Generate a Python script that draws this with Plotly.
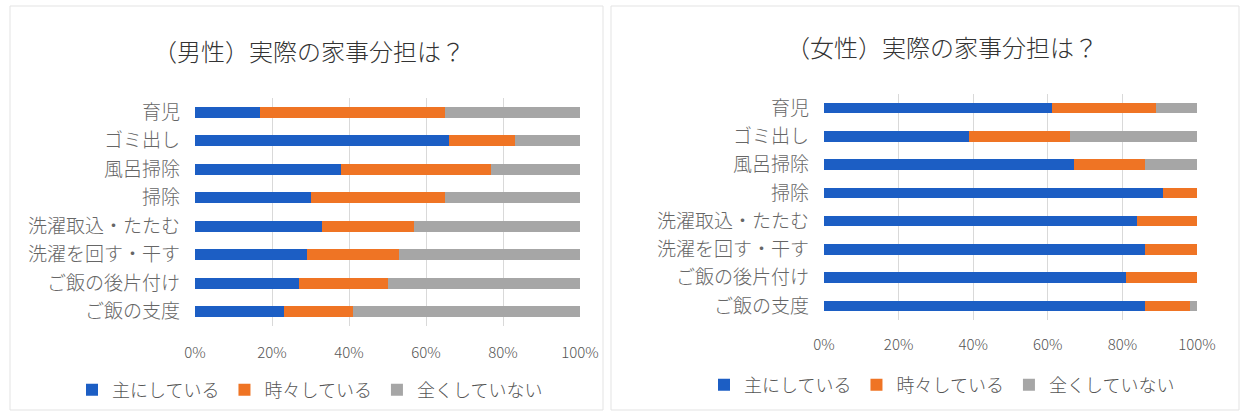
import plotly.graph_objects as go

categories = ["育児", "ゴミ出し", "風呂掃除", "掃除", "洗濯取込・たたむ",
              "洗濯を回す・干す", "ご飯の後片付け", "ご飯の支度"]
series_names = ["主にしている", "時々している", "全くしていない"]

male_main = [17, 66, 38, 30, 33, 29, 27, 23]
male_some = [48, 17, 39, 35, 24, 24, 23, 18]
male_none = [35, 17, 23, 35, 43, 47, 50, 59]

female_main = [61, 39, 67, 91, 84, 86, 81, 86]
female_some = [28, 27, 19, 9, 16, 14, 19, 12]
female_none = [11, 34, 14, 0, 0, 0, 0, 2]

tick_vals = [0, 20, 40, 60, 80, 100]
tick_text = ["0%", "20%", "40%", "60%", "80%", "100%"]

titles = ["（男性）実際の家事分担は？", "（女性）実際の家事分担は？"]

colors = ["#1c5ec4", "#ef7424", "#a6a6a6"]
FONT = "Noto Sans CJK JP"

fig = go.Figure()

male = [male_main, male_some, male_none]
female = [female_main, female_some, female_none]
for i, name in enumerate(series_names):
    fig.add_trace(go.Bar(
        y=categories, x=male[i], name=name, orientation="h",
        marker=dict(color=colors[i], line=dict(width=0)),
        width=0.38, xaxis="x", yaxis="y", legend="legend",
    ))
for i, name in enumerate(series_names):
    fig.add_trace(go.Bar(
        y=categories, x=female[i], name=name, orientation="h",
        marker=dict(color=colors[i], line=dict(width=0)),
        width=0.38, xaxis="x2", yaxis="y2", legend="legend2",
    ))

W, H = 1245, 416

def px_x(v):
    return v / W

def px_y(v):
    return 1 - v / H

xaxis_common = dict(
    range=[0, 100], tickvals=tick_vals, ticktext=tick_text,
    showgrid=True, gridcolor="#d9d9d9", gridwidth=1,
    zeroline=False, showline=False, ticks="", automargin=False,
    tickfont=dict(family=FONT, size=15, color="#555555", weight=300),
    fixedrange=True,
)
yaxis_common = dict(
    autorange="reversed", showgrid=False, zeroline=False, showline=False,
    ticks="", automargin=False,
    tickfont=dict(family=FONT, size=19, color="#666666", weight=300),
    ticklabelstandoff=14, fixedrange=True,
)

fig.update_layout(
    width=W, height=H,
    margin=dict(l=0, r=0, t=0, b=0, autoexpand=False),
    paper_bgcolor="white", plot_bgcolor="white",
    barmode="stack",
    font=dict(family=FONT, color="#555555"),
    xaxis=dict(domain=[px_x(195), px_x(580)], anchor="y",
               ticklabelstandoff=16, **xaxis_common),
    yaxis=dict(domain=[px_y(326), px_y(98)], anchor="x", **yaxis_common),
    xaxis2=dict(domain=[px_x(824), px_x(1197)], anchor="y2",
                ticklabelstandoff=14, **xaxis_common),
    yaxis2=dict(domain=[px_y(320), px_y(94)], anchor="x2", **yaxis_common),
    legend=dict(orientation="h", x=px_x(72), y=px_y(390), xanchor="left",
                yanchor="middle",
                font=dict(family=FONT, size=18, color="#555555", weight=300),
                itemwidth=30, traceorder="normal", bgcolor="rgba(0,0,0,0)"),
    legend2=dict(orientation="h", x=px_x(704), y=px_y(385), xanchor="left",
                 yanchor="middle",
                 font=dict(family=FONT, size=18, color="#555555", weight=300),
                 itemwidth=30, traceorder="normal", bgcolor="rgba(0,0,0,0)"),
    showlegend=True,
    annotations=[
        dict(text=titles[0], x=px_x(309), y=px_y(50), xref="paper", yref="paper",
             xanchor="center", yanchor="middle", showarrow=False,
             font=dict(family=FONT, size=24, color="#333333", weight=300)),
        dict(text=titles[1], x=px_x(942), y=px_y(46), xref="paper", yref="paper",
             xanchor="center", yanchor="middle", showarrow=False,
             font=dict(family=FONT, size=24, color="#333333", weight=300)),
    ],
    shapes=[
        dict(type="rect", xref="paper", yref="paper",
             x0=px_x(10), x1=px_x(603), y0=px_y(410), y1=px_y(6),
             line=dict(color="#e3e3e3", width=1)),
        dict(type="rect", xref="paper", yref="paper",
             x0=px_x(611), x1=px_x(1239), y0=px_y(410), y1=px_y(6),
             line=dict(color="#e3e3e3", width=1)),
    ],
)

fig.write_html("out.html")
